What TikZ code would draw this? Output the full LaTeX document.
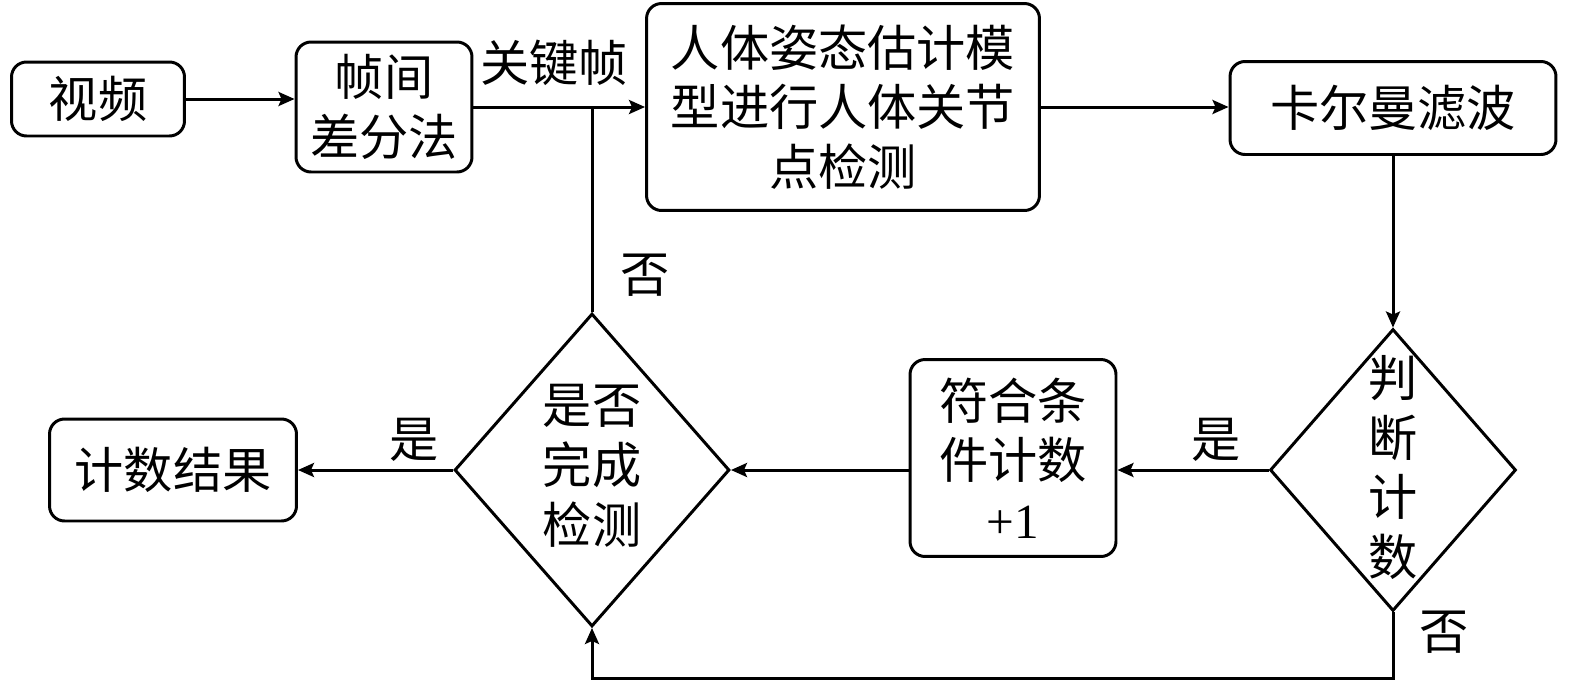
\documentclass[tikz,border=0pt]{standalone}
\usepackage{fontspec}
\setmainfont{Liberation Serif}
\newfontfamily\cjk{Noto Sans CJK SC}
\usepackage{tikz}
\usetikzlibrary{arrows.meta,shapes.geometric}

\begin{document}
\begin{tikzpicture}[->,>={Stealth[length=0.32cm,width=0.28cm,inset=0.06cm]}
	,x=0.02cm,y=-0.02cm
	,line width=1.7pt
	,font=\cjk\fontsize{28}{34}\selectfont]
  \tikzstyle{box}
  =[draw,rounded corners=0.3cm,align=center,inner sep=0pt]
  \tikzstyle{test}
  =[draw,diamond,inner sep=0pt]
  \tikzstyle{lbl}
  =[inner sep=0.15cm]

  \useasboundingbox (0,0) rectangle (1575,684);

  % top row
  \node[box,minimum width=3.46cm,minimum height=1.48cm]
    (video) at (98,99) {视频};
  \node[box,minimum width=3.52cm,minimum height=2.6cm]
    (frame) at (384,107) {帧间\\差分法};
  \node[box,minimum width=7.86cm,minimum height=4.14cm]
    (pose) at (843,107) {人体姿态估计模\\型进行人体关节\\点检测};
  \node[box,minimum width=6.52cm,minimum height=1.86cm]
    (kalman) at (1393,108) {卡尔曼滤波};
  % bottom row
  \node[test,minimum width=4.92cm,minimum height=5.64cm]
    (judge) at (1393,470)
    {\smash{\raisebox{-0.3cm}{\begin{tabular}{@{}c@{}}判\\断\\计\\数\end{tabular}}}};
  \node[box,minimum width=4.12cm,minimum height=3.94cm]
    (count) at (1013,458) {符合条\\件计数\\{\rmfamily +1}};
  \node[test,minimum width=5.5cm,minimum height=6.26cm]
    (done) at (592,470)
    {\smash{\raisebox{-0.25cm}{\begin{tabular}{@{}c@{}}是否\\完成\\检测\end{tabular}}}};
  \node[box,minimum width=4.94cm,minimum height=2.04cm]
    (result) at (173,470) {计数结果};
  \coordinate (loop) at (1393,678);

  % forward
  \path (video.east)  edge (video.east -| frame.west);
  \path (frame.east)  edge node[lbl,above=0.25cm,pos=0.47] (keylbl) {关键帧}
                           (frame.east -| pose.west);
  \path (pose.east)   edge (pose.east -| kalman.west);
  \path (kalman)      edge (judge);
  \path (judge.west)  edge node[lbl,above,pos=0.35] (yes1) {是}
                           (judge.west -| count.east);
  \path (judge.west -| count.west) edge (done.east);
  \path (done.west)   edge node[lbl,above,pos=0.25] (yes2) {是}
                           (done.west -| result.east);
  % back loops
  \draw (judge.south) -- node[lbl,right=0.35cm,pos=0.3] (no1) {否} (loop)
        -| (done.south);
  \draw[-] (done.north) -- node[lbl,right=0.4cm,pos=0.18] (no2) {否}
        (done.north |- frame.east);
\end{tikzpicture}
\end{document}
